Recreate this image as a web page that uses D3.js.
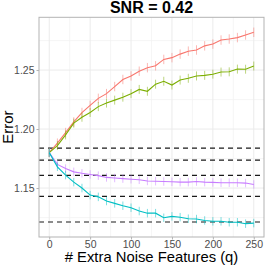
<!DOCTYPE html>
<html>
<head>
<meta charset="utf-8">
<script src="https://cdn.jsdelivr.net/npm/d3@7"></script>
<style>
  html, body { margin: 0; padding: 0; background: #fff; }
  svg text { font-family: "Liberation Sans", Arial, sans-serif; }
</style>
</head>
<body>
<div id="chart"></div>
<script>
;(function () {
  ////////////////////////////////////////////////////////////////////////////////
  // Data
  const noiseFeatures = [0, 10, 20, 30, 40, 50, 60, 70, 80, 90, 100, 110, 120,
    130, 140, 150, 160, 170, 180, 190, 200, 210, 220, 230, 240, 250];

  const redError = [1.180, 1.188, 1.197, 1.206, 1.214, 1.220, 1.226, 1.230, 1.236,
    1.242, 1.245, 1.249, 1.252, 1.2536, 1.259, 1.2605, 1.2635, 1.266, 1.267,
    1.2705, 1.272, 1.2754, 1.2763, 1.2775, 1.2797, 1.282];
  const greenError = [1.180, 1.186, 1.195, 1.205, 1.210, 1.214, 1.219, 1.222,
    1.2245, 1.227, 1.230, 1.2336, 1.232, 1.238, 1.2405, 1.2373, 1.2415, 1.243,
    1.245, 1.2455, 1.2465, 1.2483, 1.2485, 1.2508, 1.2507, 1.2534];
  const purpleError = [1.180, 1.170, 1.1665, 1.1637, 1.1625, 1.1615, 1.1605,
    1.159, 1.1585, 1.158, 1.1575, 1.157, 1.156, 1.1558, 1.1555, 1.1553, 1.155,
    1.155, 1.1555, 1.155, 1.1548, 1.1545, 1.1545, 1.1545, 1.1542, 1.153];
  const cyanError = [1.180, 1.168, 1.161, 1.155, 1.150, 1.144, 1.1425, 1.139,
    1.137, 1.135, 1.1333, 1.1305, 1.1287, 1.1287, 1.1248, 1.126, 1.1253, 1.124,
    1.1237, 1.1225, 1.1218, 1.1218, 1.121, 1.121, 1.1198, 1.1203];

  // half-length of the error bars, one per series
  const seriesNames = ['red', 'green', 'purple', 'cyan'];
  const seriesSe = [0.004, 0.0038, 0.0036, 0.0036];

  // horizontal reference lines
  const referenceLevels = [1.1839, 1.1737, 1.1608, 1.1430, 1.1212];

  const xTicks = [0, 50, 100, 150, 200, 250];
  const xMinorTicks = [25, 75, 125, 175, 225];
  const yTicks = [1.15, 1.20, 1.25];
  const yMinorTicks = [1.125, 1.175, 1.225, 1.275];

  const colors = { red: '#F8766D', green: '#7CAE00', purple: '#C77CFF', cyan: '#00BFC4' };

  ////////////////////////////////////////////////////////////////////////////////
  // Setup
  const width = 266;
  const height = 266;
  const panel = { left: 39, top: 17.3, right: 264, bottom: 237 };

  const svg = d3.select('#chart').append('svg')
    .attr('width', width)
    .attr('height', height);

  const xScale = d3.scaleLinear()
    .domain([-12.5, 262.5])
    .range([panel.left, panel.right]);
  const yScale = d3.scaleLinear()
    .domain([1.1085, 1.2947])
    .range([panel.bottom, panel.top]);

  // Grid
  const grid = svg.append('g');
  grid.selectAll('.vminor').data(xMinorTicks).enter().append('line')
    .attr('x1', d => xScale(d)).attr('x2', d => xScale(d))
    .attr('y1', panel.top).attr('y2', panel.bottom)
    .attr('stroke', '#f2f2f2').attr('stroke-width', 0.7);
  grid.selectAll('.hminor').data(yMinorTicks).enter().append('line')
    .attr('x1', panel.left).attr('x2', panel.right)
    .attr('y1', d => yScale(d)).attr('y2', d => yScale(d))
    .attr('stroke', '#f2f2f2').attr('stroke-width', 0.7);
  grid.selectAll('.vmajor').data(xTicks).enter().append('line')
    .attr('x1', d => xScale(d)).attr('x2', d => xScale(d))
    .attr('y1', panel.top).attr('y2', panel.bottom)
    .attr('stroke', '#ebebeb').attr('stroke-width', 1);
  grid.selectAll('.hmajor').data(yTicks).enter().append('line')
    .attr('x1', panel.left).attr('x2', panel.right)
    .attr('y1', d => yScale(d)).attr('y2', d => yScale(d))
    .attr('stroke', '#ebebeb').attr('stroke-width', 1);

  // Dashed reference lines
  svg.append('g').selectAll('line').data(referenceLevels).enter().append('line')
    .attr('x1', panel.left).attr('x2', panel.right)
    .attr('y1', d => yScale(d)).attr('y2', d => yScale(d))
    .attr('stroke', '#1a1a1a')
    .attr('stroke-width', 1.2)
    .attr('stroke-dasharray', '5,4');

  // Series
  const allSeries = [redError, greenError, purpleError, cyanError].map((vals, i) => ({
    name: seriesNames[i],
    se: seriesSe[i],
    points: vals.map((v, j) => ({ q: noiseFeatures[j], v: v })),
  }));

  const line = d3.line()
    .x(d => xScale(d.q))
    .y(d => yScale(d.v));

  allSeries.forEach(s => {
    const g = svg.append('g');
    g.selectAll('line').data(s.points).enter().append('line')
      .attr('x1', d => xScale(d.q)).attr('x2', d => xScale(d.q))
      .attr('y1', d => yScale(d.v - s.se)).attr('y2', d => yScale(d.v + s.se))
      .attr('stroke', colors[s.name])
      .attr('stroke-opacity', 0.5)
      .attr('stroke-width', 1);
    g.append('path')
      .datum(s.points)
      .attr('fill', 'none')
      .attr('stroke', colors[s.name])
      .attr('stroke-width', 1.1)
      .attr('d', line);
  });

  // Panel border
  svg.append('rect')
    .attr('x', panel.left).attr('y', panel.top)
    .attr('width', panel.right - panel.left)
    .attr('height', panel.bottom - panel.top)
    .attr('fill', 'none')
    .attr('stroke', '#b3b3b3')
    .attr('stroke-width', 1);

  // Axes
  const xAxis = svg.append('g')
    .attr('transform', `translate(0 ${panel.bottom})`)
    .call(d3.axisBottom(xScale).tickValues(xTicks).tickSize(2.5).tickPadding(1.5));
  const yAxis = svg.append('g')
    .attr('transform', `translate(${panel.left} 0)`)
    .call(d3.axisLeft(yScale).tickValues(yTicks).tickSize(2.5).tickPadding(2)
      .tickFormat(d3.format('.2f')));
  [xAxis, yAxis].forEach(a => {
    a.select('.domain').remove();
    a.selectAll('.tick line').attr('stroke', '#b3b3b3');
    a.selectAll('.tick text')
      .attr('fill', '#4d4d4d')
      .style('font-size', '10.5px');
  });

  // Labels
  svg.append('text')
    .attr('x', (panel.left + panel.right) / 2)
    .attr('y', 13)
    .attr('text-anchor', 'middle')
    .style('font-size', '16px')
    .style('font-weight', 'bold')
    .attr('fill', '#000')
    .text('SNR = 0.42');

  svg.append('text')
    .attr('x', (panel.left + panel.right) / 2)
    .attr('y', 262)
    .attr('text-anchor', 'middle')
    .style('font-size', '14.8px')
    .attr('fill', '#000')
    .text('# Extra Noise Features (q)');

  svg.append('text')
    .attr('transform', `translate(13 ${(panel.top + panel.bottom) / 2}) rotate(-90)`)
    .attr('text-anchor', 'middle')
    .style('font-size', '15px')
    .attr('fill', '#000')
    .text('Error');
})();
</script>
</body>
</html>
